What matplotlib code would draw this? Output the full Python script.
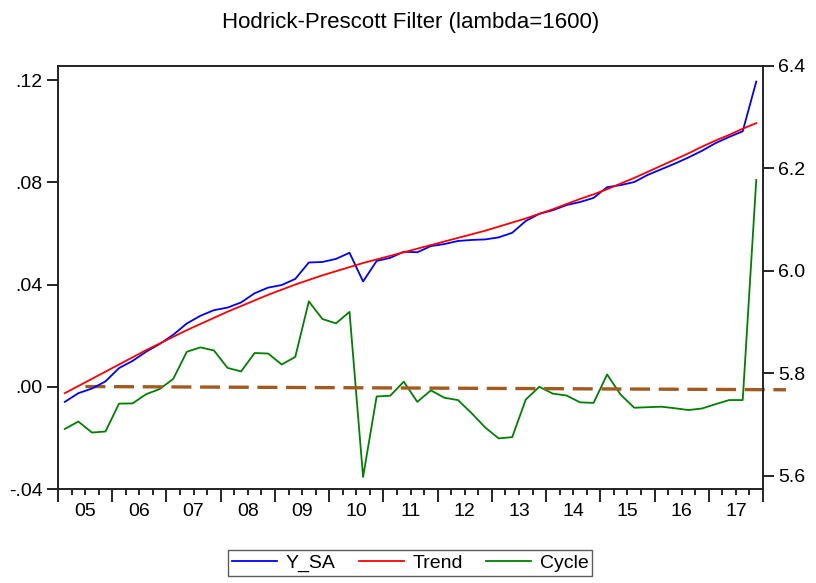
import matplotlib
matplotlib.use("Agg")
import matplotlib.pyplot as plt

plt.rcParams['font.family'] = ['Liberation Sans', 'DejaVu Sans']

# quarterly data, 2005Q1 .. 2017Q4
years = ['05', '06', '07', '08', '09', '10', '11', '12', '13', '14', '15', '16', '17']

y_sa = [5.744, 5.761, 5.770, 5.784, 5.810, 5.824, 5.842, 5.857,
        5.875, 5.897, 5.912, 5.923, 5.928, 5.938, 5.956, 5.967,
        5.972, 5.984, 6.016, 6.017, 6.023, 6.035, 5.979, 6.019,
        6.025, 6.037, 6.036, 6.048, 6.052, 6.058, 6.060, 6.061,
        6.065, 6.074, 6.097, 6.111, 6.118, 6.128, 6.134, 6.142,
        6.163, 6.167, 6.173, 6.187, 6.198, 6.209, 6.221, 6.234,
        6.249, 6.261, 6.272, 6.369]

trend = [5.761, 5.775, 5.789, 5.803, 5.817, 5.831, 5.845, 5.858,
         5.871, 5.884, 5.896, 5.908, 5.920, 5.931, 5.942, 5.953,
         5.963, 5.973, 5.982, 5.991, 5.999, 6.007, 6.015, 6.022,
         6.029, 6.036, 6.043, 6.050, 6.057, 6.064, 6.071, 6.078,
         6.086, 6.094, 6.102, 6.111, 6.120, 6.130, 6.140, 6.149,
         6.159, 6.170, 6.181, 6.193, 6.205, 6.217, 6.229, 6.242,
         6.254, 6.265, 6.277, 6.288]

cycle = [-0.0165, -0.0136, -0.0179, -0.0175, -0.0066, -0.0065, -0.0029, -0.0009,
         0.0031, 0.0137, 0.0154, 0.0142, 0.0074, 0.0060, 0.0132, 0.0130,
         0.0087, 0.0117, 0.0334, 0.0265, 0.0248, 0.0293, -0.0353, -0.0038,
         -0.0035, 0.0020, -0.0059, -0.0014, -0.0043, -0.0052, -0.0103, -0.0159,
         -0.0202, -0.0197, -0.0050, 0.0000, -0.0027, -0.0034, -0.0061, -0.0063,
         0.0048, -0.0031, -0.0082, -0.0080, -0.0078, -0.0084, -0.0091, -0.0085,
         -0.0068, -0.0052, -0.0052, 0.0809]

# dashed reference line (left axis units, x in quarters from 2005Q1)
ref_x = [1.52, 53.19]
ref_y = [0.0001, -0.00117]

n = len(y_sa)
q = list(range(n))

fig = plt.figure(figsize=(8.16, 5.83), dpi=100)
ax = fig.add_axes([0.0711, 0.1612, 0.8640, 0.7261])
ax2 = ax.twinx()

# cycle on the left scale
l_cycle, = ax.plot(q, cycle, color='#008000', lw=1.3, label='Cycle')
ax.plot(ref_x, ref_y, color='#A35A1F', lw=2.4, dashes=(6, 2.6), clip_on=False)

# series and trend on the right scale
l_ysa, = ax2.plot(q, y_sa, color='#0000FF', lw=1.3, label='Y_SA')
l_trend, = ax2.plot(q, trend, color='#FF0000', lw=1.3, label='Trend')

ax.set_xlim(-0.5, n - 0.5)
ax.set_ylim(-0.04, 0.1256)
ax2.set_ylim(5.574, 6.4)

lt = [-0.04, 0.0, 0.04, 0.08, 0.12]
ax.set_yticks(lt)
ax.set_yticklabels(['-.04', '.00', '.04', '.08', '.12'], fontsize=14)
rt = [5.6, 5.8, 6.0, 6.2, 6.4]
ax2.set_yticks(rt)
ax2.set_yticklabels(['%.1f' % v for v in rt], fontsize=14)

# year boundaries as major ticks, quarters as minor
ax.set_xticks([-0.5 + 4 * k for k in range(len(years) + 1)])
ax.set_xticks([-0.5 + j for j in range(n + 1) if j % 4], minor=True)
ax.set_xticklabels([])
ax.tick_params(axis='x', which='major', length=9, width=1.2, color='black')
ax.tick_params(axis='x', which='minor', length=4, width=1.2, color='black')
ax.tick_params(axis='y', length=8, width=1.2, pad=3)
ax2.tick_params(axis='y', length=8, width=1.2, pad=3)

for k, yr in enumerate(years):
    ax.text(1.5 + 4 * k, -0.052, yr, transform=ax.get_xaxis_transform(),
            ha='center', va='center', fontsize=14)

for a in (ax, ax2):
    for s in a.spines.values():
        s.set_linewidth(1.2)
        s.set_color('#222222')

fig.text(0.503, 0.962, 'Hodrick-Prescott Filter (lambda=1600)',
         ha='center', va='center', fontsize=16)

leg = fig.legend([l_ysa, l_trend, l_cycle], ['Y_SA', 'Trend', 'Cycle'],
                 loc='center', bbox_to_anchor=(0.503, 0.0343), ncol=3,
                 fontsize=14, frameon=True, fancybox=False, edgecolor='#333333',
                 handlelength=2.3, handletextpad=0.45, columnspacing=1.2,
                 borderpad=0.2, borderaxespad=0)
leg.get_frame().set_linewidth(1.0)

fig.savefig('out.png', dpi=100)
